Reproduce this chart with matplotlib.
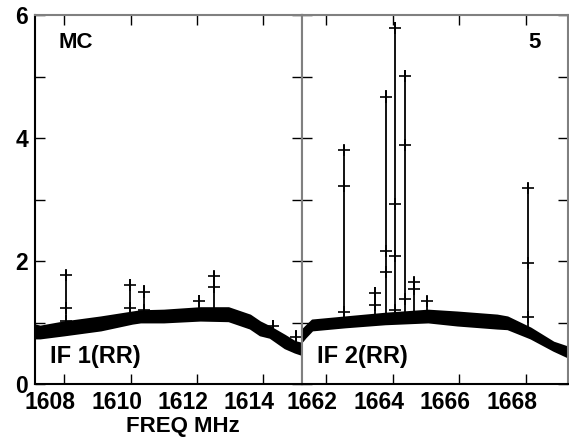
import numpy as np
import matplotlib
matplotlib.use("Agg")
import matplotlib.pyplot as plt
from matplotlib.transforms import ScaledTranslation

plt.rcParams['font.family'] = ['Liberation Sans', 'DejaVu Sans']
plt.rcParams['font.weight'] = 'bold'

# IF 1 band (envelope of the dense channel points)
if1_freq = [1607.12, 1607.27, 1608.0, 1609.1, 1610.05, 1610.3, 1611.0, 1612.1,
            1612.95, 1613.6, 1613.9, 1614.2, 1614.65, 1614.95, 1615.17]
if1_top = [0.96, 0.94, 1.01, 1.09, 1.17, 1.19, 1.20, 1.24,
           1.24, 1.12, 1.01, 0.93, 0.79, 0.69, 0.66]
if1_bot = [0.75, 0.75, 0.80, 0.88, 0.99, 1.01, 1.01, 1.04,
           1.03, 0.91, 0.80, 0.76, 0.59, 0.52, 0.48]

# IF 2 band
if2_freq = [1661.28, 1661.37, 1661.58, 1662.57, 1663.77, 1665.06, 1665.93,
            1667.13, 1667.44, 1668.13, 1668.82, 1669.26]
if2_top = [0.88, 0.93, 1.04, 1.09, 1.15, 1.20, 1.17, 1.12, 1.09, 0.91, 0.68, 0.60]
if2_bot = [0.70, 0.76, 0.88, 0.93, 0.98, 1.01, 0.96, 0.91, 0.90, 0.75, 0.55, 0.44]

# spikes: channel freq, line base, line top, cross marks
if1_spike_freq = [1608.05, 1609.98, 1610.40, 1612.06, 1612.52, 1614.29, 1615.0]
if1_spike_base = [0.9, 1.1, 1.1, 1.15, 1.15, 0.85, 0.6]
if1_spike_top = [1.85, 1.71, 1.61, 1.45, 1.84, 1.04, 0.88]
if1_spike_marks = [[1.77, 1.24, 1.03], [1.61, 1.23], [1.49, 1.20], [1.35],
                   [1.76, 1.58], [0.94], [0.76]]

if2_spike_freq = [1662.54, 1663.47, 1663.79, 1664.07, 1664.37, 1664.64, 1665.03, 1668.05]
if2_spike_base = [1.0, 1.05, 1.05, 1.1, 1.1, 1.1, 1.1, 0.85]
if2_spike_top = [3.89, 1.58, 4.78, 5.89, 5.10, 1.74, 1.43, 3.27]
if2_spike_marks = [[3.80, 3.22, 1.17], [1.48, 1.28], [4.67, 2.16, 1.82],
                   [5.79, 2.93, 2.08, 1.20], [5.01, 3.88, 1.38], [1.66, 1.54],
                   [1.35], [3.19, 1.96, 1.09]]

if1_ticks = [1608, 1610, 1612, 1614]
if2_ticks = [1662, 1664, 1666, 1668]
y_ticks = [0, 1, 2, 3, 4, 5, 6]
y_labels = ['0', '', '2', '', '4', '', '6']

fig = plt.figure(figsize=(5.69, 4.37), dpi=100)
ax1 = fig.add_axes([35/569, 53/437, 267/569, 369/437])
ax2 = fig.add_axes([302/569, 53/437, 266/569, 369/437])

gray = '#808080'
panels = [
    (ax1, if1_freq, if1_top, if1_bot, if1_spike_freq, if1_spike_base, if1_spike_top,
     if1_spike_marks, if1_ticks, (1607.12, 1615.17)),
    (ax2, if2_freq, if2_top, if2_bot, if2_spike_freq, if2_spike_base, if2_spike_top,
     if2_spike_marks, if2_ticks, (1661.28, 1669.26)),
]

for ax, fr, top, bot, sf, sb, st, sm, xt, xl in panels:
    ax.fill_between(fr, bot, top, color='black', lw=1.5, edgecolor='black')
    ax.vlines(sf, sb, st, color='black', lw=1.3)
    for f, marks in zip(sf, sm):
        ax.plot([f] * len(marks), marks, ls='none', marker='+', ms=9,
                mew=1.2, color='black')
    ax.set_xlim(*xl)
    ax.set_ylim(0, 6)
    ax.set_xticks(xt)
    ax.set_yticks(y_ticks)
    ax.tick_params(direction='in', length=7, width=1, top=True, right=True,
                   labelsize=16.5, pad=5)
    for s in ax.spines.values():
        s.set_color(gray)
        s.set_linewidth(1.5)
    ax.spines['bottom'].set_color('black')
    offset = ScaledTranslation(-14/100, 0, fig.dpi_scale_trans)
    for lab in ax.get_xticklabels():
        lab.set_transform(lab.get_transform() + offset)

ax1.spines['left'].set_color('black')
ax1.set_yticklabels(y_labels)
ax2.set_yticklabels([])

ax1.text(59/569, 1 - 48/437, 'MC', transform=fig.transFigure, fontsize=16,
         fontweight='bold', ha='left', va='baseline')
ax2.text(541/569, 1 - 48/437, '5', transform=fig.transFigure, fontsize=16,
         fontweight='bold', ha='right', va='baseline')
ax1.text(50/569, 1 - 363/437, 'IF 1(RR)', transform=fig.transFigure, fontsize=17,
         fontweight='bold', ha='left', va='baseline')
ax2.text(317/569, 1 - 363/437, 'IF 2(RR)', transform=fig.transFigure, fontsize=17,
         fontweight='bold', ha='left', va='baseline')
fig.text(183/569, 1 - 432/437, 'FREQ MHz', fontsize=16, fontweight='bold',
         ha='center', va='baseline')

fig.savefig('out.png', dpi=100)
